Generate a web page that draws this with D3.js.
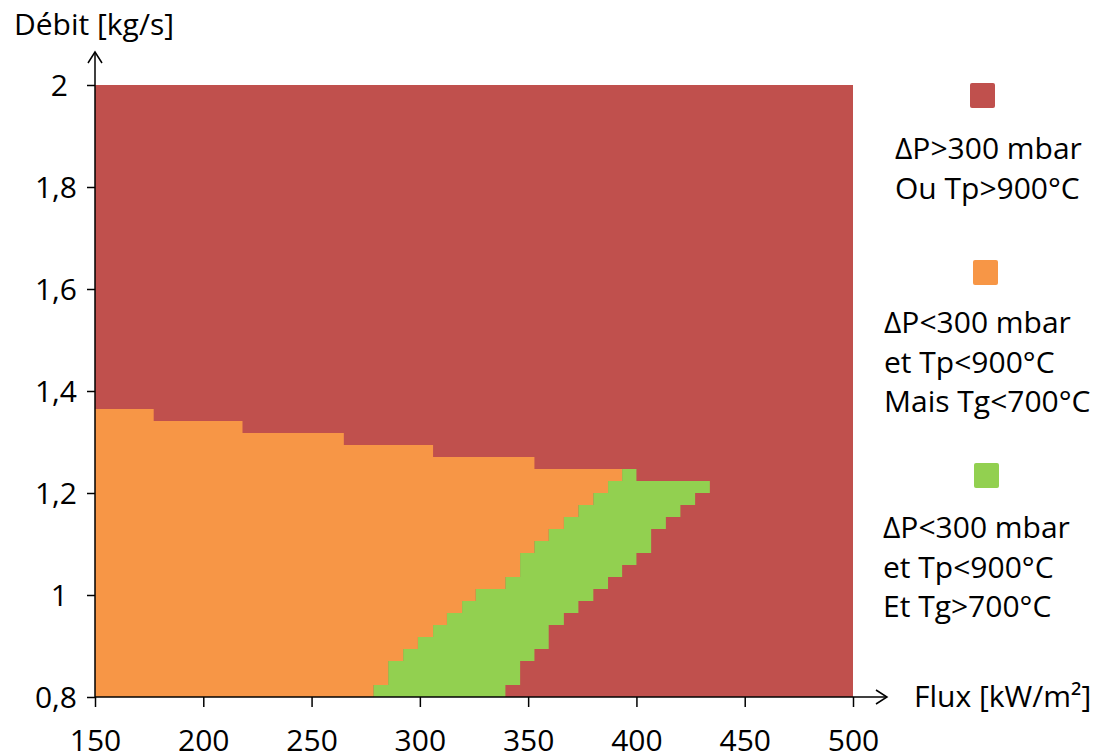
<!DOCTYPE html>
<html>
<head>
<meta charset="utf-8">
<script src="https://cdn.jsdelivr.net/npm/d3@7/dist/d3.min.js"></script>
<style>
  html, body { margin: 0; padding: 0; background: #ffffff; }
  svg { display: block; }
  text { font-family: "Open Sans", "DejaVu Sans", sans-serif; fill: #000; }
</style>
</head>
<body>
<svg id="chart" width="1099" height="755"></svg>
<script>
// ---------------- data ----------------
const fluxTicks = [150, 200, 250, 300, 350, 400, 450, 500];
const debitTicks = [0.8, 1, 1.2, 1.4, 1.6, 1.8, 2];
const debitTickLabels = ["0,8", "1", "1,2", "1,4", "1,6", "1,8", "2"];

// débit row edges (kg/s), 24 rows
const rowEdges = [0.800, 0.8235, 0.8471, 0.8706, 0.8941, 0.9176, 0.9412, 0.9647,
  0.9882, 1.0118, 1.0353, 1.0588, 1.0824, 1.1059, 1.1294, 1.1529, 1.1765, 1.2000,
  1.2235, 1.2471, 1.2706, 1.2941, 1.3176, 1.3412, 1.3647];

// flux where the orange zone ends (green starts) in each row
const orangeEnd = [278.6, 285.4, 285.4, 292.3, 299.1, 306.1, 312.5, 319.5, 325.8,
  339.5, 346.3, 346.3, 352.9, 359.5, 366.5, 373.2, 380.1, 386.9, 393.4,
  352.9, 306.1, 264.9, 218.1, 177.1];
// flux where the green zone ends (red starts) in each row
const greenEnd = [339.5, 346.3, 346.3, 352.9, 359.5, 359.5, 366.5, 373.2, 380.1,
  386.9, 393.4, 400.0, 406.8, 406.8, 413.6, 420.3, 427.1, 433.9, 400.0,
  352.9, 306.1, 264.9, 218.1, 177.1];

const legendItems = [
  { color: "#C0504D", lines: ["\u0394P>300 mbar", "Ou Tp>900\u00B0C"] },
  { color: "#F79646", lines: ["\u0394P<300 mbar", "et Tp<900\u00B0C", "Mais Tg<700\u00B0C"] },
  { color: "#92D050", lines: ["\u0394P<300 mbar", "et Tp<900\u00B0C", "Et Tg>700\u00B0C"] }
];
const xTitle = "Flux [kW/m\u00B2]";
const yTitle = "D\u00E9bit [kg/s]";

// ---------------- layout ----------------
const svg = d3.select("#chart");
const FS = 30;
const x = d3.scaleLinear().domain([150, 500]).range([95, 853]);
const y = d3.scaleLinear().domain([0.8, 2]).range([697, 85]);

// red background (whole domain)
svg.append("rect")
  .attr("x", x(150)).attr("y", y(2))
  .attr("width", x(500) - x(150)).attr("height", y(0.8) - y(2))
  .attr("fill", legendItems[0].color);

// orange zone
const nRows = orangeEnd.length;
let op = [[150, rowEdges[0]]];
for (let k = 0; k < nRows; k++) {
  op.push([orangeEnd[k], rowEdges[k]]);
  op.push([orangeEnd[k], rowEdges[k + 1]]);
}
op.push([150, rowEdges[nRows]]);
svg.append("path")
  .attr("d", "M" + op.map(p => x(p[0]) + "," + y(p[1])).join("L") + "Z")
  .attr("fill", legendItems[1].color);

// green zone
const gRows = [];
for (let k = 0; k < nRows; k++) if (greenEnd[k] > orangeEnd[k]) gRows.push(k);
let gp = [];
gRows.forEach(k => {
  gp.push([orangeEnd[k], rowEdges[k]]);
  gp.push([orangeEnd[k], rowEdges[k + 1]]);
});
gRows.slice().reverse().forEach(k => {
  gp.push([greenEnd[k], rowEdges[k + 1]]);
  gp.push([greenEnd[k], rowEdges[k]]);
});
svg.append("path")
  .attr("d", "M" + gp.map(p => x(p[0]) + "," + y(p[1])).join("L") + "Z")
  .attr("fill", legendItems[2].color);

// axes ticks
const xAxis = svg.append("g")
  .attr("transform", `translate(0,${y(0.8)})`)
  .call(d3.axisBottom(x).tickValues(fluxTicks).tickSize(10).tickFormat(d => d));
xAxis.select(".domain").remove();
xAxis.selectAll("line").attr("stroke", "#000").attr("stroke-width", 1.5);
xAxis.selectAll("text").attr("y", 53.5).attr("dy", 0)
  .style("font-size", FS + "px").attr("fill", "#000");

const yAxis = svg.append("g")
  .attr("transform", `translate(${x(150)},0)`)
  .call(d3.axisLeft(y).tickValues(debitTicks).tickSize(8)
    .tickFormat((d, i) => debitTickLabels[i]));
yAxis.select(".domain").remove();
yAxis.selectAll("line").attr("stroke", "#000").attr("stroke-width", 1.5);
yAxis.selectAll("text")
  .attr("x", (d, i) => debitTickLabels[i].includes(",") ? -18 : -27)
  .attr("dy", "0.34em")
  .style("font-size", FS + "px").attr("fill", "#000");

// axis lines with arrows
svg.append("line").attr("x1", x(150)).attr("y1", y(0.8)).attr("x2", x(150)).attr("y2", 52)
  .attr("stroke", "#000").attr("stroke-width", 1.5);
svg.append("polyline").attr("points", `${x(150) - 7},63 ${x(150)},52 ${x(150) + 7},63`)
  .attr("fill", "none").attr("stroke", "#000").attr("stroke-width", 1.5);
svg.append("line").attr("x1", x(150)).attr("y1", y(0.8)).attr("x2", 887).attr("y2", y(0.8))
  .attr("stroke", "#000").attr("stroke-width", 1.5);
svg.append("polyline").attr("points", `876,${y(0.8) - 7} 887,${y(0.8)} 876,${y(0.8) + 7}`)
  .attr("fill", "none").attr("stroke", "#000").attr("stroke-width", 1.5);

// titles
svg.append("text").attr("x", 14).attr("y", 35).style("font-size", FS + "px").text(yTitle);
svg.append("text").attr("x", 914).attr("y", 707).style("font-size", FS + "px").text(xTitle);

// legend
const legPos = [
  { sx: 970, sy: 83, tx: 895, ty: 159 },
  { sx: 973, sy: 260, tx: 884, ty: 333 },
  { sx: 974, sy: 463, tx: 883, ty: 538 }
];
legendItems.forEach((it, i) => {
  const p = legPos[i];
  svg.append("rect").attr("x", p.sx).attr("y", p.sy).attr("width", 25).attr("height", 25)
    .attr("rx", 2).attr("fill", it.color);
  it.lines.forEach((ln, j) => {
    svg.append("text").attr("x", p.tx).attr("y", p.ty + j * 39.5)
      .style("font-size", FS + "px").text(ln);
  });
});
</script>
</body>
</html>
